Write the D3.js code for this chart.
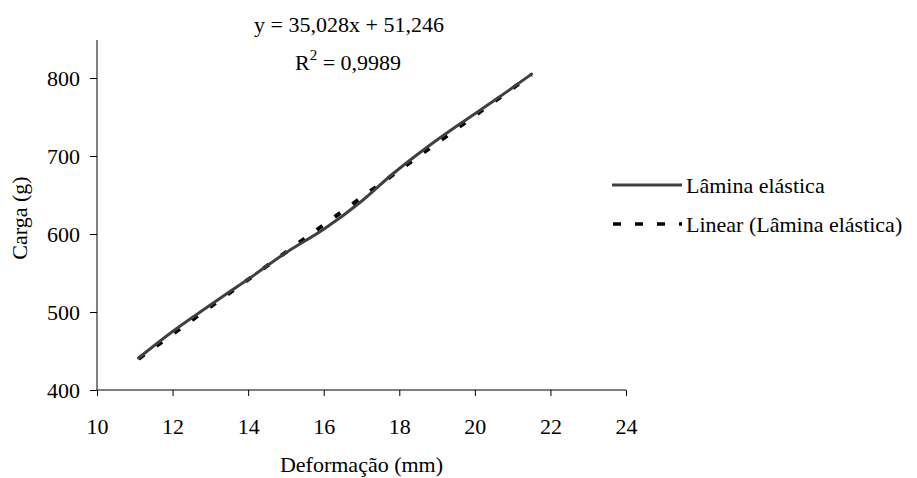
<!DOCTYPE html>
<html>
<head>
<meta charset="utf-8">
<script src="https://cdn.jsdelivr.net/npm/d3@7"></script>
<style>
  body { margin: 0; background: #fff; }
  text { font-family: "Liberation Serif", "Times New Roman", serif; fill: #000; }
</style>
</head>
<body>
<script>
// measured data (Deformação mm, Carga g)
var deformacao = [11.1, 12.0, 13.0, 14.0, 15.0, 16.0, 17.0, 17.8, 18.7, 19.6, 20.6, 21.5];
var carga = [441, 475, 509, 542, 576, 606, 642, 676, 710, 741, 774, 805];
var xTicks = [10, 12, 14, 16, 18, 20, 22, 24];
var yTicks = [400, 500, 600, 700, 800];
var slope = 35.028, intercept = 51.246;
var eqText = "y = 35,028x + 51,246";
var r2Text = " = 0,9989";
var seriesName = "Lâmina elástica";
var trendName = "Linear (Lâmina elástica)";

var width = 917, height = 478;
var lineColor = "#404040";
var fontSize = 22;
var serif = "'Liberation Serif', 'Times New Roman', serif";

var svg = d3.select("body").append("svg")
    .attr("width", width)
    .attr("height", height);

var x = d3.scaleLinear().domain([10, 24]).range([97, 626]);
var y = d3.scaleLinear().domain([400, 800]).range([390, 78]);

// axes
var xAxis = svg.append("g")
    .attr("transform", "translate(0," + y(400) + ")")
    .call(d3.axisBottom(x).tickValues(xTicks).tickSize(6).tickSizeOuter(0).tickPadding(22));
var yAxis = svg.append("g")
    .attr("transform", "translate(" + x(10) + ",0)")
    .call(d3.axisLeft(y).tickValues(yTicks).tickSize(7).tickSizeOuter(0).tickPadding(10));

[xAxis, yAxis].forEach(function (a) {
    a.attr("font-family", null);
    a.select(".domain").remove();
    a.selectAll("line").attr("stroke", "#000");
    a.selectAll("text")
        .style("font-family", serif)
        .style("font-size", fontSize + "px")
        .attr("fill", "#000");
});
xAxis.selectAll("text").attr("dy", "0.71em");

// axis lines (y axis runs above the 800 tick)
svg.append("line")
    .attr("x1", x(10)).attr("x2", x(24))
    .attr("y1", y(400)).attr("y2", y(400))
    .attr("stroke", "#000").attr("stroke-width", 1);
svg.append("line")
    .attr("x1", x(10)).attr("x2", x(10))
    .attr("y1", y(400)).attr("y2", 40)
    .attr("stroke", "#000").attr("stroke-width", 1);

// trend line (dashed), drawn below the series
var x0 = d3.min(deformacao), x1 = d3.max(deformacao);
svg.append("line")
    .attr("x1", x(x0)).attr("y1", y(slope * x0 + intercept))
    .attr("x2", x(x1)).attr("y2", y(slope * x1 + intercept))
    .attr("stroke", "#000")
    .attr("stroke-width", 4)
    .attr("stroke-dasharray", "7,15");

// smoothed series line
var pts = deformacao.map(function (d, i) { return [d, carga[i]]; });
var line = d3.line()
    .x(function (d) { return x(d[0]); })
    .y(function (d) { return y(d[1]); })
    .curve(d3.curveCatmullRom);
svg.append("path")
    .datum(pts)
    .attr("d", line)
    .attr("fill", "none")
    .attr("stroke", lineColor)
    .attr("stroke-width", 3)
    .attr("stroke-linecap", "round");

// equation
svg.append("text")
    .attr("x", 349).attr("y", 32)
    .attr("text-anchor", "middle")
    .style("font-family", serif)
    .style("font-size", fontSize + "px")
    .text(eqText);
var r2 = svg.append("text")
    .attr("x", 348).attr("y", 70)
    .attr("text-anchor", "middle")
    .style("font-family", serif)
    .style("font-size", fontSize + "px");
r2.append("tspan").text("R");
r2.append("tspan").attr("dy", -10).style("font-size", "15px").text("2");
r2.append("tspan").attr("dy", 10).text(r2Text);

// axis titles
svg.append("text")
    .attr("x", (x(10) + x(24)) / 2).attr("y", 472)
    .attr("text-anchor", "middle")
    .style("font-family", serif)
    .style("font-size", fontSize + "px")
    .text("Deformação (mm)");
svg.append("text")
    .attr("transform", "translate(27,218) rotate(-90)")
    .attr("text-anchor", "middle")
    .style("font-family", serif)
    .style("font-size", fontSize + "px")
    .text("Carga (g)");

// legend
var legend = svg.append("g");
legend.append("line")
    .attr("x1", 612).attr("x2", 682).attr("y1", 185).attr("y2", 185)
    .attr("stroke", lineColor).attr("stroke-width", 3);
legend.append("text")
    .attr("x", 686).attr("y", 193)
    .style("font-family", serif)
    .style("font-size", fontSize + "px")
    .text(seriesName);
legend.append("line")
    .attr("x1", 613).attr("x2", 682).attr("y1", 224).attr("y2", 224)
    .attr("stroke", "#000").attr("stroke-width", 3.5)
    .attr("stroke-dasharray", "8,14");
legend.append("text")
    .attr("x", 686).attr("y", 232)
    .style("font-family", serif)
    .style("font-size", fontSize + "px")
    .text(trendName);
</script>
</body>
</html>
